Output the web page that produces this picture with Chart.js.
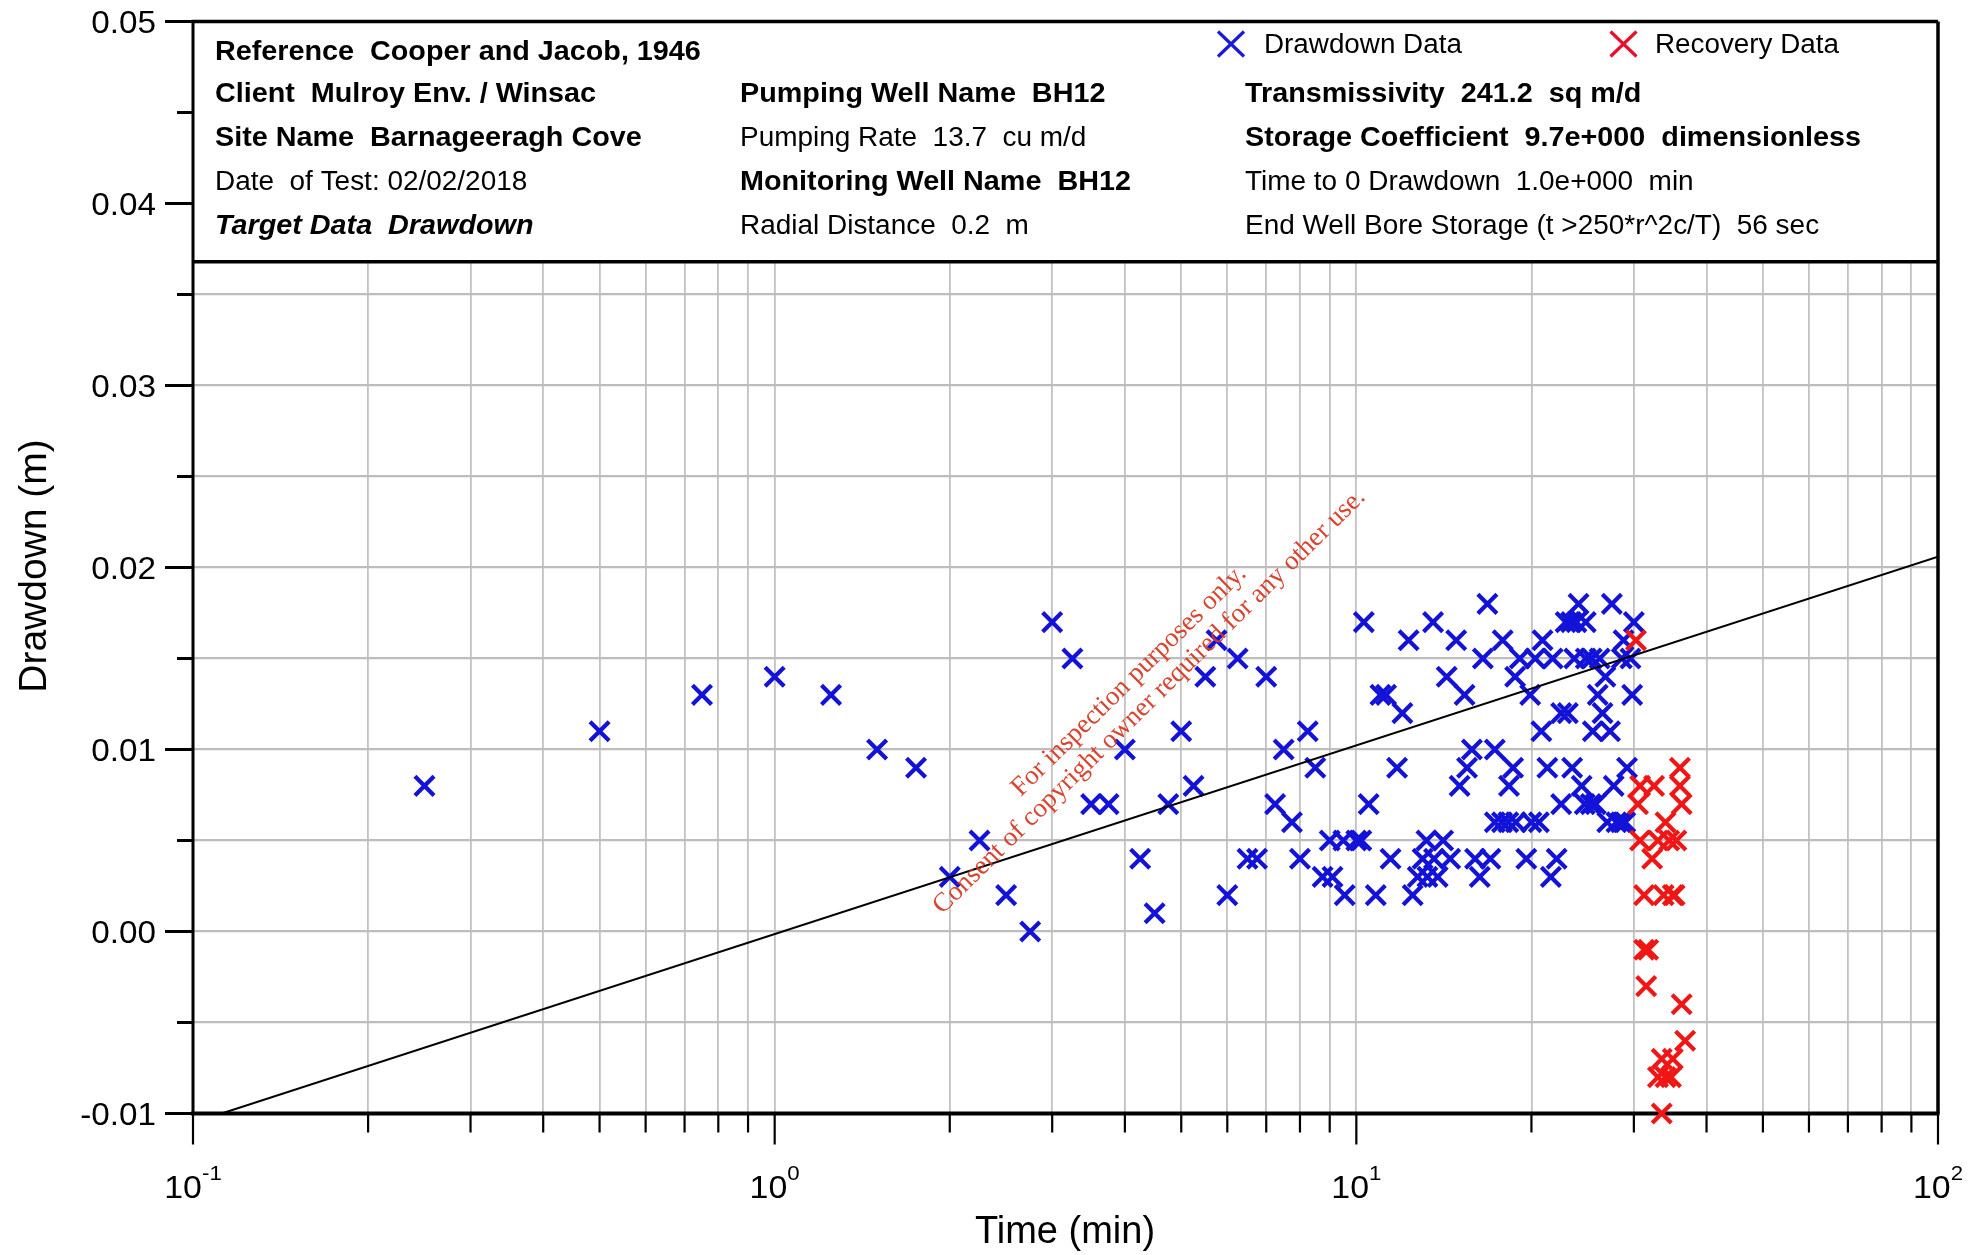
<!DOCTYPE html>
<html>
<head>
<meta charset="utf-8">
<title>Cooper and Jacob drawdown analysis - BH12</title>
<script src="https://cdn.jsdelivr.net/npm/chart.js@4.4.1/dist/chart.umd.min.js"></script>
<style>
  html, body { margin: 0; padding: 0; background: #ffffff; }
  canvas { display: block; }
</style>
</head>
<body>
<canvas id="chart" width="1973" height="1255"></canvas>
<script>
// Pumping phase readings: elapsed time (min) and drawdown (m)
const drawdownTime = [
  0.25, 0.5, 0.75, 1.0, 1.25, 1.5, 1.75, 2.0, 2.25, 2.5,
  2.75, 3.0, 3.25, 3.5, 3.75, 4.0, 4.25, 4.5, 4.75, 5.0,
  5.25, 5.5, 5.75, 6.0, 6.25, 6.5, 6.75, 7.0, 7.25, 7.5,
  7.75, 8.0, 8.25, 8.5, 8.75, 9.0, 9.1, 9.5, 9.55, 10.0,
  10.2, 10.3, 10.5, 10.8, 11.0, 11.25, 11.45, 11.75, 12.0, 12.3,
  12.5, 12.75, 13.0, 13.2, 13.25, 13.55, 13.6, 13.8, 14.1, 14.3,
  14.5, 14.85, 15.05, 15.35, 15.5, 15.8, 16.0, 16.3, 16.5, 16.8,
  17.0, 17.3, 17.3, 17.8, 17.85, 18.25, 18.3, 18.6, 18.75, 18.8,
  19.1, 19.6, 19.9, 20.0, 20.3, 20.6, 20.8, 20.9, 21.3, 21.6,
  21.75, 22.1, 22.5, 22.5, 22.9, 23.1, 23.4, 23.5, 23.7, 23.9,
  24.1, 24.4, 24.7, 24.8, 24.8, 25.3, 25.4, 25.5, 25.8, 26.0,
  26.2, 26.5, 26.8, 27.0, 27.3, 27.5, 27.7, 28.0, 28.5, 28.6,
  28.8, 29.0, 29.2, 29.6, 29.8, 30.0
];
const drawdownValue = [
  0.008, 0.011, 0.013, 0.014, 0.013, 0.010, 0.009, 0.003, 0.005, 0.002,
  0.000, 0.017, 0.015, 0.007, 0.007, 0.010, 0.004, 0.001, 0.007, 0.011,
  0.008, 0.014, 0.016, 0.002, 0.015, 0.004, 0.004, 0.014, 0.007, 0.010,
  0.006, 0.004, 0.011, 0.009, 0.003, 0.005, 0.003, 0.005, 0.002, 0.005,
  0.005, 0.017, 0.007, 0.002, 0.013, 0.013, 0.004, 0.009, 0.012, 0.016,
  0.002, 0.003, 0.004, 0.005, 0.003, 0.017, 0.004, 0.003, 0.005, 0.014,
  0.004, 0.016, 0.008, 0.013, 0.009, 0.010, 0.004, 0.003, 0.015, 0.018,
  0.004, 0.010, 0.006, 0.006, 0.016, 0.006, 0.008, 0.009, 0.014, 0.006,
  0.015, 0.004, 0.013, 0.006, 0.015, 0.006, 0.011, 0.016, 0.009, 0.003,
  0.015, 0.004, 0.007, 0.012, 0.017, 0.012, 0.017, 0.009, 0.015, 0.017,
  0.018, 0.008, 0.007, 0.017, 0.015, 0.007, 0.015, 0.011, 0.007, 0.013,
  0.015, 0.012, 0.014, 0.006, 0.011, 0.018, 0.008, 0.006, 0.006, 0.015,
  0.016, 0.006, 0.009, 0.015, 0.013, 0.017
];

// Recovery phase readings after the pump was stopped
const recoveryTime = [
  30.25, 30.5, 30.75, 30.75, 31.25, 31.25, 31.5, 31.75, 32.25, 32.5,
  33.0, 33.0, 33.5, 33.5, 33.75, 34.0, 34.0, 34.5, 34.75, 35.0,
  35.0, 35.25, 35.5, 36.0, 36.0, 36.25, 36.25, 36.75
];
const recoveryValue = [
  0.016, 0.007, 0.008, 0.005, -0.001, 0.002, -0.003, -0.001, 0.004, 0.008,
  0.005, -0.008, -0.007, -0.010, 0.002, 0.006, -0.008, 0.005, -0.008, -0.007,
  0.002, 0.002, 0.005, 0.009, 0.008, 0.007, -0.004, -0.006
];

// Cooper-Jacob straight-line fit (end points)
const fitTime = [0.112, 100];
const fitDrawdown = [-0.0100, 0.0206];

// Axis ticks
const xDecades = [0.1, 1, 10];
const xMultipliers = [1, 2, 3, 4, 5, 6, 7, 8, 9];
const xTickValues = xDecades.flatMap(d => xMultipliers.map(m => +(d * m).toPrecision(3))).concat([100]);
const xMajorTicks = [0.1, 1, 10, 100];
const xTickExponents = ['-1', '0', '1', '2'];
const yTickValues = [-0.01, -0.005, 0, 0.005, 0.01, 0.015, 0.02, 0.025, 0.03, 0.035, 0.04, 0.045, 0.05];
const yMajorTicks = [-0.01, 0, 0.01, 0.02, 0.03, 0.04, 0.05];
const yTickLabels = ['-0.01', '0.00', '0.01', '0.02', '0.03', '0.04', '0.05'];

// Information panel text
const headerRows = [
  { col: 0, row: 0, style: 'bold', text: 'Reference  Cooper and Jacob, 1946' },
  { col: 0, row: 1, style: 'bold', text: 'Client  Mulroy Env. / Winsac' },
  { col: 0, row: 2, style: 'bold', text: 'Site Name  Barnageeragh Cove' },
  { col: 0, row: 3, style: '', text: 'Date  of Test: 02/02/2018' },
  { col: 0, row: 4, style: 'italic bold', text: 'Target Data  Drawdown' },
  { col: 1, row: 1, style: 'bold', text: 'Pumping Well Name  BH12' },
  { col: 1, row: 2, style: '', text: 'Pumping Rate  13.7  cu m/d' },
  { col: 1, row: 3, style: 'bold', text: 'Monitoring Well Name  BH12' },
  { col: 1, row: 4, style: '', text: 'Radial Distance  0.2  m' },
  { col: 2, row: 1, style: 'bold', text: 'Transmissivity  241.2  sq m/d' },
  { col: 2, row: 2, style: 'bold', text: 'Storage Coefficient  9.7e+000  dimensionless' },
  { col: 2, row: 3, style: '', text: 'Time to 0 Drawdown  1.0e+000  min' },
  { col: 2, row: 4, style: '', text: 'End Well Bore Storage (t >250*r^2c/T)  56 sec' }
];
const legendItems = [
  { label: 'Drawdown Data', color: '#1a1adb' },
  { label: 'Recovery Data', color: '#e8102a' }
];

const BLUE = '#1212d8';
const RED = '#f01616';
const SANS = '"Liberation Sans", Arial, sans-serif';
const SERIF = '"Liberation Serif", "Times New Roman", serif';

// Layout of the frame
const HEADER_BOTTOM = 261.7;
const HEADER_COL_X = [215, 740, 1245];
const HEADER_ROW_Y = [60, 102, 146, 190, 233.5];

function stretchedText(ctx, text, x, y, font, sx, align) {
  ctx.save();
  ctx.font = font;
  const w = ctx.measureText(text).width * sx;
  let x0 = x;
  if (align === 'right') x0 = x - w;
  else if (align === 'center') x0 = x - w / 2;
  ctx.translate(x0, y);
  ctx.scale(sx, 1);
  ctx.textAlign = 'left';
  ctx.textBaseline = 'alphabetic';
  ctx.fillText(text, 0, 0);
  ctx.restore();
  return w;
}

function isIn(list, v) {
  return list.some(m => Math.abs(m - v) < 1e-9);
}

const framePlugin = {
  id: 'frame',
  beforeDraw(chart) {
    const ctx = chart.ctx;
    ctx.save();
    ctx.fillStyle = '#ffffff';
    ctx.fillRect(0, 0, chart.width, chart.height);
    ctx.restore();
  },
  beforeDatasetsDraw(chart) {
    const ctx = chart.ctx;
    const { left, right, top, bottom } = chart.chartArea;
    const xs = chart.scales.x;
    const ys = chart.scales.y;
    ctx.save();

    // information panel
    ctx.fillStyle = '#ffffff';
    ctx.fillRect(left, top, right - left, HEADER_BOTTOM - top);
    ctx.fillStyle = '#000';
    headerRows.forEach(r => {
      const sx = r.style.indexOf('bold') >= 0 ? 1.065 : 1.035;
      stretchedText(ctx, r.text, HEADER_COL_X[r.col], HEADER_ROW_Y[r.row],
        (r.style ? r.style + ' ' : '') + '27px ' + SANS, sx, 'left');
    });
    // legend glyphs
    const legendX = [1231, 1623.5];
    const legendTextX = [1264, 1655];
    legendItems.forEach((item, i) => {
      const cx = legendX[i], cy = 44;
      ctx.strokeStyle = item.color;
      ctx.lineWidth = 3.2;
      ctx.beginPath();
      ctx.moveTo(cx - 13, cy - 12.5); ctx.lineTo(cx + 13, cy + 12.5);
      ctx.moveTo(cx - 13, cy + 12.5); ctx.lineTo(cx + 13, cy - 12.5);
      ctx.stroke();
      ctx.fillStyle = '#000';
      stretchedText(ctx, item.label, legendTextX[i], 53, '27px ' + SANS, 1.03, 'left');
    });

    // panel bottom edge
    ctx.strokeStyle = '#000';
    ctx.lineWidth = 3.5;
    ctx.beginPath();
    ctx.moveTo(left, HEADER_BOTTOM); ctx.lineTo(right, HEADER_BOTTOM);
    ctx.stroke();

    // plot border
    ctx.lineWidth = 3.5;
    ctx.beginPath();
    ctx.moveTo(left - 1.5, top); ctx.lineTo(right, top);
    ctx.moveTo(right, top); ctx.lineTo(right, bottom);
    ctx.stroke();
    ctx.lineWidth = 3;
    ctx.beginPath();
    ctx.moveTo(left, top); ctx.lineTo(left, bottom);
    ctx.stroke();
    ctx.lineWidth = 4;
    ctx.beginPath();
    ctx.moveTo(left - 2, bottom); ctx.lineTo(right + 1.5, bottom);
    ctx.stroke();

    // y ticks and labels
    ctx.lineWidth = 3;
    yTickValues.forEach(v => {
      const y = ys.getPixelForValue(v);
      const major = isIn(yMajorTicks, v);
      const len = major ? 28 : 16;
      ctx.beginPath();
      ctx.moveTo(left - len, y); ctx.lineTo(left, y);
      ctx.stroke();
    });
    ctx.fillStyle = '#000';
    yMajorTicks.forEach((v, i) => {
      const y = ys.getPixelForValue(v);
      stretchedText(ctx, yTickLabels[i], 156, y + 11.5, '32px ' + SANS, 1.04, 'right');
    });

    // x ticks and labels
    ctx.lineWidth = 2.2;
    xTickValues.forEach(v => {
      const x = xs.getPixelForValue(v);
      const major = isIn(xMajorTicks, v);
      const len = major ? 31 : 19;
      ctx.beginPath();
      ctx.moveTo(x, bottom); ctx.lineTo(x, bottom + len);
      ctx.stroke();
    });
    xMajorTicks.forEach((v, i) => {
      const x = xs.getPixelForValue(v);
      ctx.font = '32px ' + SANS;
      const wb = ctx.measureText('10').width * 1.06;
      ctx.font = '21px ' + SANS;
      const we = ctx.measureText(xTickExponents[i]).width * 1.06;
      const x0 = x - (wb + we) / 2;
      stretchedText(ctx, '10', x0, 1198, '32px ' + SANS, 1.06, 'left');
      stretchedText(ctx, xTickExponents[i], x0 + wb, 1180, '21px ' + SANS, 1.06, 'left');
    });

    // axis titles
    ctx.font = '38px ' + SANS;
    ctx.textAlign = 'center';
    ctx.textBaseline = 'alphabetic';
    ctx.fillText('Time (min)', 1065, 1243);
    ctx.save();
    ctx.translate(46, 566);
    ctx.rotate(-Math.PI / 2);
    ctx.font = '39px ' + SANS;
    ctx.fillText('Drawdown (m)', 0, 0);
    ctx.restore();

    ctx.restore();
  },
  afterDraw(chart) {
    // inspection stamp across the plot
    const ctx = chart.ctx;
    ctx.save();
    ctx.translate(1134, 686);
    ctx.rotate(-44.5 * Math.PI / 180);
    ctx.fillStyle = 'rgba(214, 58, 36, 0.95)';
    ctx.font = '27px ' + SERIF;
    ctx.textAlign = 'center';
    ctx.textBaseline = 'alphabetic';
    ctx.fillText('For inspection purposes only.', 0, 0);
    ctx.fillText('Consent of copyright owner required for any other use.', 0, 29);
    ctx.restore();
  }
};

const toPoints = (xsArr, ysArr) => xsArr.map((x, i) => ({ x: x, y: ysArr[i] }));

new Chart(document.getElementById('chart').getContext('2d'), {
  type: 'scatter',
  data: {
    datasets: [
      {
        type: 'line',
        label: 'Cooper-Jacob fit',
        data: toPoints(fitTime, fitDrawdown),
        borderColor: '#000000',
        borderWidth: 2,
        pointRadius: 0,
        fill: false,
        order: 1
      },
      {
        label: 'Recovery Data',
        data: toPoints(recoveryTime, recoveryValue),
        pointStyle: 'crossRot',
        pointRadius: 13.5,
        pointBorderWidth: 4.2,
        borderColor: RED,
        pointBorderColor: RED,
        backgroundColor: RED,
        clip: false,
        order: 2
      },
      {
        label: 'Drawdown Data',
        data: toPoints(drawdownTime, drawdownValue),
        pointStyle: 'crossRot',
        pointRadius: 13.5,
        pointBorderWidth: 4.2,
        borderColor: BLUE,
        pointBorderColor: BLUE,
        backgroundColor: BLUE,
        clip: false,
        order: 3
      }
    ]
  },
  options: {
    responsive: false,
    animation: false,
    devicePixelRatio: 1,
    events: [],
    layout: { padding: { top: 21.5, right: 35, left: 0, bottom: 0 } },
    plugins: {
      legend: { display: false },
      tooltip: { enabled: false },
      title: { display: false }
    },
    scales: {
      x: {
        type: 'logarithmic',
        min: 0.1,
        max: 100,
        afterBuildTicks: scale => { scale.ticks = xTickValues.map(v => ({ value: v })); },
        afterFit: scale => { scale.height = 141.5; },
        ticks: { display: false },
        title: { display: false },
        border: { display: false },
        grid: { color: '#c2c2c2', lineWidth: 1.8, drawTicks: false }
      },
      y: {
        type: 'linear',
        min: -0.01,
        max: 0.05,
        afterBuildTicks: scale => { scale.ticks = yTickValues.map(v => ({ value: v })); },
        afterFit: scale => { scale.width = 193; },
        ticks: { display: false },
        title: { display: false },
        border: { display: false },
        grid: { color: '#bdbdbd', lineWidth: 2.2, drawTicks: false }
      }
    }
  },
  plugins: [framePlugin]
});
</script>
</body>
</html>
